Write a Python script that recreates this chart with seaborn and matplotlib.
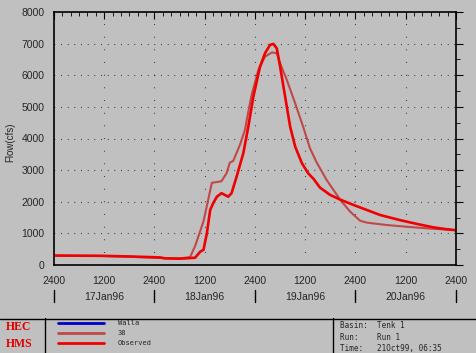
# -*- coding:UTF-8 -*-
import numpy as np
import pandas as pd
import seaborn as sns
import matplotlib
matplotlib.use("Agg")
from matplotlib import pyplot as plt
from matplotlib.ticker import MultipleLocator

# hours since 16Jan96 2400
obs_t = [0, 11.4, 18.1, 25.3, 26.5, 30.1, 33.7, 34.9, 35.7, 36.5, 37.3, 38.0, 38.9,
         40.0, 41.6, 42.4, 43.6, 45.2, 46.4, 47.6, 49.2, 50.4, 51.6, 52.4, 53.2,
         54.0, 55.2, 56.4, 57.6, 59.2, 60.7, 62.0, 63.5, 65.9, 68.3, 71.5, 74.7,
         77.9, 82.6, 86.6, 90.6, 93.8, 96]
obs_q = [300, 290, 270, 240, 210, 200, 230, 420, 480, 1000, 1740, 1950, 2160,
         2270, 2160, 2270, 2790, 3530, 4370, 5320, 6270, 6700, 6960, 6990, 6850,
         6270, 5320, 4370, 3740, 3220, 2900, 2720, 2450, 2220, 2070, 1900, 1740,
         1580, 1420, 1300, 1190, 1130, 1100]

sim_t = [0, 11.4, 18.1, 25.3, 30.1, 32.5, 33.7, 35.7, 37.7, 39.2, 40.0, 41.2,
         42.0, 42.8, 44.4, 45.6, 46.4, 47.2, 48.8, 50.4, 52.0, 53.2, 54.0, 55.6,
         57.6, 59.5, 61.1, 62.7, 65.1, 68.3, 70.7, 73.1, 74.7, 79.4, 84.2, 89.0,
         93.8, 96]
sim_q = [290, 285, 260, 220, 210, 250, 600, 1380, 2600, 2630, 2650, 2900,
         3240, 3290, 3800, 4270, 4850, 5380, 6170, 6590, 6720, 6700, 6380, 5850,
         5110, 4370, 3700, 3250, 2690, 2070, 1690, 1400, 1340, 1265, 1210, 1160,
         1120, 1100]

series = ["Walla", "38", "Observed"]
colors = {"Walla": "#0000C8", "38": "#C04848", "Observed": "#F00000"}
widths = {"38": 1.5, "Observed": 1.9}
xticks = list(range(0, 97, 12))
xlabels = ["2400", "1200", "2400", "1200", "2400", "1200", "2400", "1200", "2400"]
day_labels = ["17Jan96", "18Jan96", "19Jan96", "20Jan96"]
info = ["Basin:  Tenk 1", "Run:    Run 1", "Time:   21Oct99, 06:35"]

df = pd.concat([
    pd.DataFrame({"t": sim_t, "flow": sim_q, "series": "38"}),
    pd.DataFrame({"t": obs_t, "flow": obs_q, "series": "Observed"}),
])

bg = "#C0C0C0"
sns.set_style("white")
plt.rcParams["font.family"] = ["Liberation Sans", "DejaVu Sans"]

fig = plt.figure(figsize=(4.77, 3.53), dpi=100, facecolor=bg)
ax = fig.add_axes([54 / 477, 88 / 353, 402 / 477, 253 / 353])
ax.set_facecolor(bg)

for name in ["38", "Observed"]:
    sns.lineplot(data=df[df.series == name], x="t", y="flow", color=colors[name],
                 estimator=None, sort=False, linewidth=widths[name], ax=ax)

ax.set_xlim(0, 96)
ax.set_ylim(0, 8000)
for s in ax.spines.values():
    s.set_color("black")
    s.set_linewidth(1.2)

# x axis
ax.set_xticks(xticks)
ax.set_xticklabels(xlabels)
ax.xaxis.set_minor_locator(MultipleLocator(2))
ax.yaxis.set_major_locator(MultipleLocator(1000))
ax.yaxis.set_minor_locator(MultipleLocator(500))
ax.tick_params(axis="both", which="both", direction="out", color="black",
               labelsize=7.5, top=False, right=True)
ax.tick_params(axis="x", which="major", length=5, pad=3)
ax.tick_params(axis="x", which="minor", length=3)
ax.tick_params(axis="y", which="major", length=5, pad=2)
ax.tick_params(axis="y", which="minor", length=3)

# top ticks point inward
top = ax.secondary_xaxis("top")
top.set_xticks(xticks)
top.set_xticklabels([])
top.xaxis.set_minor_locator(MultipleLocator(2))
top.tick_params(which="both", direction="in", color="black")
top.tick_params(which="major", length=5)
top.tick_params(which="minor", length=3)
top.spines["top"].set_visible(False)

ax.set_xlabel("")
ax.set_ylabel("Flow(cfs)", fontsize=7)
ax.yaxis.set_label_coords(-0.097, 0.486)

# dotted grid
for y in range(1000, 8000, 1000):
    ax.axhline(y, color="black", lw=0.8, ls=(0, (0.6, 5.4)), zorder=0)
for x in range(12, 96, 12):
    ax.axvline(x, color="black", lw=0.8, ls=(0, (0.6, 10.8)), zorder=0)

# date row
tr = ax.get_xaxis_transform()
for x in range(0, 97, 24):
    ax.plot([x, x], [-0.098, -0.148], transform=tr, color="black", lw=1, clip_on=False)
for i, lab in enumerate(day_labels):
    ax.text(12 + 24 * i, -0.125, lab, transform=tr, ha="center", va="center", fontsize=7.5)

# bottom panel in pixel coords
bx = fig.add_axes([0, 0, 1, 35 / 353])
bx.set_xlim(0, 477)
bx.set_ylim(353, 318)
bx.axis("off")
bx.plot([0, 477], [318.5, 318.5], color="black", lw=1, clip_on=False)
bx.plot([45, 45], [318, 353], color="black", lw=1)
bx.plot([333, 333], [318, 353], color="black", lw=1)
bx.text(19, 327, "HEC", color="#E00000", fontsize=8.5, fontweight="bold",
        family="Liberation Serif", ha="center", va="center")
bx.text(19, 344, "HMS", color="#E00000", fontsize=8.5, fontweight="bold",
        family="Liberation Serif", ha="center", va="center")
for i, name in enumerate(series):
    y = 323 + 10 * i
    bx.plot([58, 104], [y, y], color=colors[name], lw=2)
    bx.text(118, y, name, fontsize=5, family="DejaVu Sans Mono", va="center")
for i, line in enumerate(info):
    bx.text(340, 326 + 11 * i, line, fontsize=5.5, family="DejaVu Sans Mono", va="center")

fig.savefig("out.png", dpi=100, facecolor=bg)
